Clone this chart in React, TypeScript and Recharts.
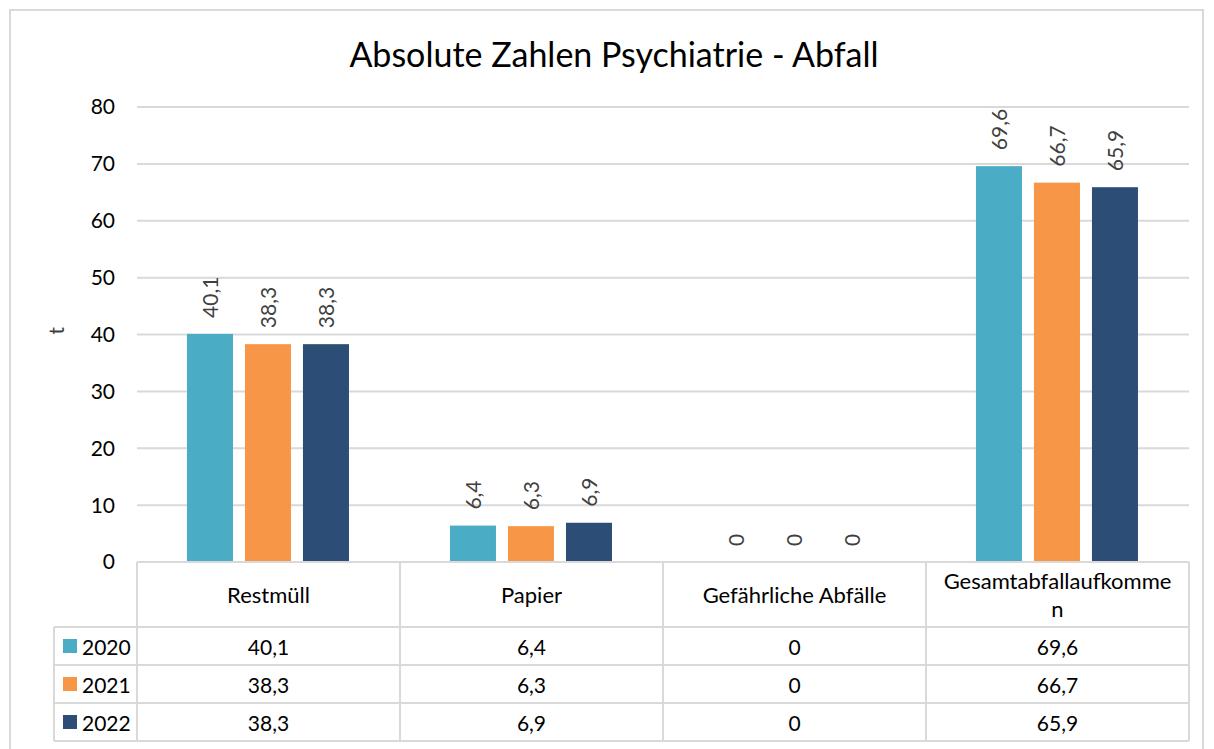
import React from 'react';
import { BarChart, Bar, XAxis, YAxis, CartesianGrid } from 'recharts';

const categories = ['Restmüll', 'Papier', 'Gefährliche Abfälle', 'Gesamtabfallaufkommen'];
const years = ['2020', '2021', '2022'];
const values2020 = [40.1, 6.4, 0, 69.6];
const values2021 = [38.3, 6.3, 0, 66.7];
const values2022 = [38.3, 6.9, 0, 65.9];
const yTicks = [0, 10, 20, 30, 40, 50, 60, 70, 80];
const colors = ['#4BACC6', '#F79646', '#2C4D75'];
const title = 'Absolute Zahlen Psychiatrie - Abfall';
const yLabel = 't';

const seriesValues = [values2020, values2021, values2022];
const data = categories.map((c, i) => ({
  name: c,
  y2020: values2020[i],
  y2021: values2021[i],
  y2022: values2022[i],
}));
const keys = ['y2020', 'y2021', 'y2022'];

const W = 1214;
const H = 749;
const M = { top: 107, right: 25, left: 57, bottom: 7 };
const YW = 80;
const XH = 180;
const plotLeft = M.left + YW;
const plotRight = W - M.right;
const plotBottom = H - M.bottom - XH;
const colW = (plotRight - plotLeft) / categories.length;
const headerH = 65;
const rowH = 38;
const legendLeft = 54;
const FONT = 'Lato, "Open Sans", sans-serif';
const LINE = '#D9D9D9';
const FS = 21;
const HFS = 22;

const fmt = (v: number) => String(v).replace('.', ',');

const wrap = (s: string) => (s.length > 20 ? [s.slice(0, 20), s.slice(20)] : [s]);

const TableTick = (props: any) => {
  const { x, payload, index } = props;
  const left = x - colW / 2;
  const right = x + colW / 2;
  const rowsTop = plotBottom + headerH;
  const bottom = rowsTop + rowH * years.length;
  const lines = wrap(String(payload.value));
  const hy = plotBottom + headerH / 2;
  const els: any[] = [];
  els.push(<line key="t" x1={left} x2={right} y1={plotBottom} y2={plotBottom} stroke={LINE} strokeWidth={2} />);
  els.push(<line key="r" x1={right} x2={right} y1={plotBottom} y2={bottom} stroke={LINE} strokeWidth={2} />);
  if (index === 0) {
    els.push(<line key="l" x1={left} x2={left} y1={plotBottom} y2={bottom} stroke={LINE} strokeWidth={2} />);
    els.push(<line key="ll" x1={legendLeft} x2={legendLeft} y1={rowsTop} y2={bottom} stroke={LINE} strokeWidth={2} />);
  }
  for (let r = 0; r <= years.length; r++) {
    const yy = rowsTop + r * rowH;
    els.push(
      <line key={'h' + r} x1={index === 0 ? legendLeft : left} x2={right} y1={yy} y2={yy} stroke={LINE} strokeWidth={2} />
    );
  }
  lines.forEach((ln, k) => {
    const yy = hy + (k - (lines.length - 1) / 2) * 28;
    els.push(
      <text key={'c' + k} x={x} y={yy} textAnchor="middle" dominantBaseline="central" fontSize={HFS} fill="#000" fontFamily={FONT}>
        {ln}
      </text>
    );
  });
  seriesValues.forEach((vals, r) => {
    const yy = rowsTop + r * rowH + rowH / 2;
    els.push(
      <text key={'v' + r} x={x} y={yy} textAnchor="middle" dominantBaseline="central" fontSize={FS} fill="#000" fontFamily={FONT}>
        {fmt(vals[index])}
      </text>
    );
    if (index === 0) {
      els.push(<rect key={'s' + r} x={63} y={yy - 7} width={14} height={14} fill={colors[r]} />);
      els.push(
        <text key={'y' + r} x={82} y={yy} textAnchor="start" dominantBaseline="central" fontSize={FS} fill="#000" fontFamily={FONT}>
          {years[r]}
        </text>
      );
    }
  });
  return <g>{els}</g>;
};

const makeShape = (key: string) => (props: any) => {
  const { x, y, width, height, fill, payload } = props;
  const value = payload[key];
  const cx = x + width / 2;
  const ty = y - 16;
  return (
    <g>
      {height > 0 ? <rect x={x} y={y} width={width} height={height} fill={fill} /> : null}
      <text
        x={cx}
        y={ty}
        transform={`rotate(-90 ${cx} ${ty})`}
        textAnchor="start"
        dominantBaseline="central"
        fontSize={FS}
        fill="#404040"
        fontFamily={FONT}
      >
        {fmt(value)}
      </text>
    </g>
  );
};

export default function App() {
  return (
    <div style={{ position: 'absolute', left: 0, top: 0, width: W, height: H, background: '#fff', overflow: 'hidden' }}>
      <div
        style={{
          position: 'absolute',
          left: 9,
          top: 9,
          width: 1195,
          height: 760,
          border: '2px solid #D9D9D9',
          boxSizing: 'border-box',
        }}
      />
      <div
        style={{
          position: 'absolute',
          left: 0,
          width: 1228,
          top: 33,
          textAlign: 'center',
          fontFamily: FONT,
          fontSize: 34,
          color: '#000',
          lineHeight: '42px',
        }}
      >
        {title}
      </div>
      <div style={{ position: 'absolute', left: 0, top: 0 }}>
        <BarChart width={W} height={H} data={data} margin={M} barCategoryGap="19%" barGap={12}>
          <CartesianGrid vertical={false} stroke={LINE} strokeWidth={2} />
          <XAxis
            dataKey="name"
            height={XH}
            axisLine={false}
            tickLine={false}
            interval={0}
            tick={<TableTick />}
          />
          <YAxis
            width={YW}
            domain={[0, 80]}
            ticks={yTicks}
            axisLine={false}
            tickLine={false}
            tickMargin={16}
            tick={{ fontSize: FS, fill: '#000', fontFamily: FONT }}
            label={{ value: yLabel, angle: -90, position: 'insideLeft', offset: 0, fontSize: FS, fill: '#404040', fontFamily: FONT }}
          />
          {keys.map((k, i) => (
            <Bar key={k} dataKey={k} fill={colors[i]} isAnimationActive={false} shape={makeShape(k)} />
          ))}
        </BarChart>
      </div>
    </div>
  );
}
